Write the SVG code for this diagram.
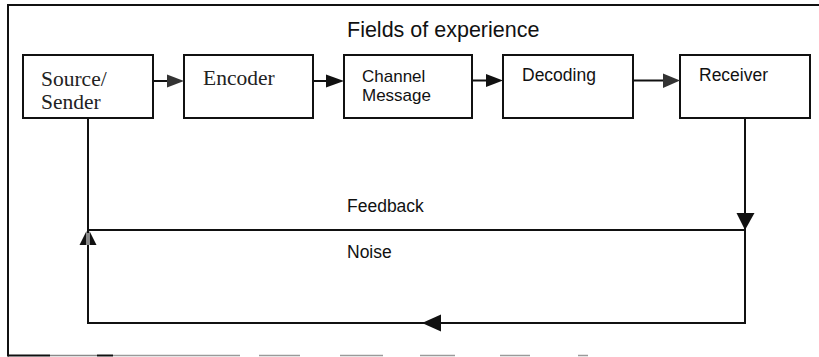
<svg xmlns="http://www.w3.org/2000/svg" width="819" height="357" viewBox="0 0 819 357">
  <defs>
    <style>
      .box { fill: #ffffff; stroke: #111111; stroke-width: 2; }
      .wire { fill: none; stroke: #111111; stroke-width: 2; }
      .frame { fill: none; stroke: #111111; stroke-width: 2; }
      .serif { font-family: "Liberation Serif", "Times New Roman", serif; font-size: 21.5px; fill: #222222; }
      .sans { font-family: "Liberation Sans", Arial, sans-serif; font-size: 17.5px; fill: #111111; }
      .sans-small { font-family: "Liberation Sans", Arial, sans-serif; font-size: 17px; fill: #111111; }
      .title { font-family: "Liberation Sans", Arial, sans-serif; font-size: 21.5px; fill: #111111; }
      .head { fill: #111111; }
      .head-soft { fill: #333333; }
    </style>
  </defs>

  <rect x="0" y="0" width="819" height="357" fill="#ffffff"/>

  <!-- surrounding frame: top and left edges, partly faded bottom edge -->
  <g id="frame">
    <line class="frame" x1="8" y1="5" x2="819" y2="5"/>
    <line class="frame" x1="8" y1="4" x2="8" y2="356.5"/>
    <line x1="8" y1="355.5" x2="50" y2="355.5" stroke="#111111" stroke-width="2"/>
    <line x1="50" y1="355.5" x2="97" y2="355.5" stroke="#8a8a8a" stroke-width="1.5"/>
    <line x1="97" y1="355.5" x2="113" y2="355.5" stroke="#111111" stroke-width="2"/>
    <path d="M113 355.5H240M259 355.5H300M340 355.5H383M420 355.5H455M500 355.5H530M578 355.5H588"
          stroke="#9a9a9a" stroke-width="1.5" fill="none"/>
  </g>

  <text class="title" x="347" y="36.5">Fields of experience</text>

  <g id="source">
    <rect class="box" x="23" y="55" width="130" height="63"/>
    <text class="serif" x="41" y="86">Source/</text>
    <text class="serif" x="41" y="109">Sender</text>
  </g>

  <g id="encoder">
    <rect class="box" x="184" y="55" width="129" height="63"/>
    <text class="serif" x="203" y="85">Encoder</text>
  </g>

  <g id="channel">
    <rect class="box" x="344" y="55" width="128" height="63"/>
    <text class="sans-small" x="362" y="81.5">Channel</text>
    <text class="sans-small" x="362" y="101">Message</text>
  </g>

  <g id="decoding">
    <rect class="box" x="503" y="55" width="130" height="63"/>
    <text class="sans" x="522" y="81">Decoding</text>
  </g>

  <g id="receiver">
    <rect class="box" x="680" y="55" width="130" height="63"/>
    <text class="sans" x="699" y="80.5">Receiver</text>
  </g>

  <text class="sans" x="347" y="211.5">Feedback</text>
  <text class="sans" x="347" y="258">Noise</text>

  <g id="connectors">
    <!-- forward chain -->
    <line class="wire" x1="153" y1="81" x2="170" y2="81"/>
    <polygon class="head-soft" points="184,81 167,74.5 167,87.5"/>

    <line class="wire" x1="313" y1="81" x2="328" y2="81"/>
    <polygon class="head" points="344,81 326,74.5 326,87.5"/>

    <line class="wire" x1="472" y1="80.5" x2="487" y2="80.5"/>
    <polygon class="head" points="503,80.5 486,74 486,87"/>

    <line class="wire" x1="633" y1="80.5" x2="665" y2="80.5"/>
    <polygon class="head-soft" points="680,80.5 663,73.5 663,88"/>

    <!-- feedback loop -->
    <line class="wire" x1="88" y1="118" x2="88" y2="323"/>
    <line class="wire" x1="745" y1="118" x2="745" y2="323"/>
    <line class="wire" x1="87" y1="230" x2="746" y2="230"/>
    <line class="wire" x1="87" y1="323" x2="746" y2="323"/>

    <!-- down arrow on receiver side -->
    <polygon class="head" points="745,230 736.5,213 754.5,213"/>
    <!-- up arrow on sender side, split by a light seam -->
    <polygon class="head" points="86.5,231 79.5,245 86.5,245"/>
    <polygon class="head" points="89.5,231 96.5,245 89.5,245"/>
    <line x1="88" y1="233" x2="88" y2="245" stroke="#ffffff" stroke-width="1"/>
    <!-- left arrow on bottom return line -->
    <polygon class="head" points="422,323 441,314.5 441,331.5"/>
  </g>
</svg>
